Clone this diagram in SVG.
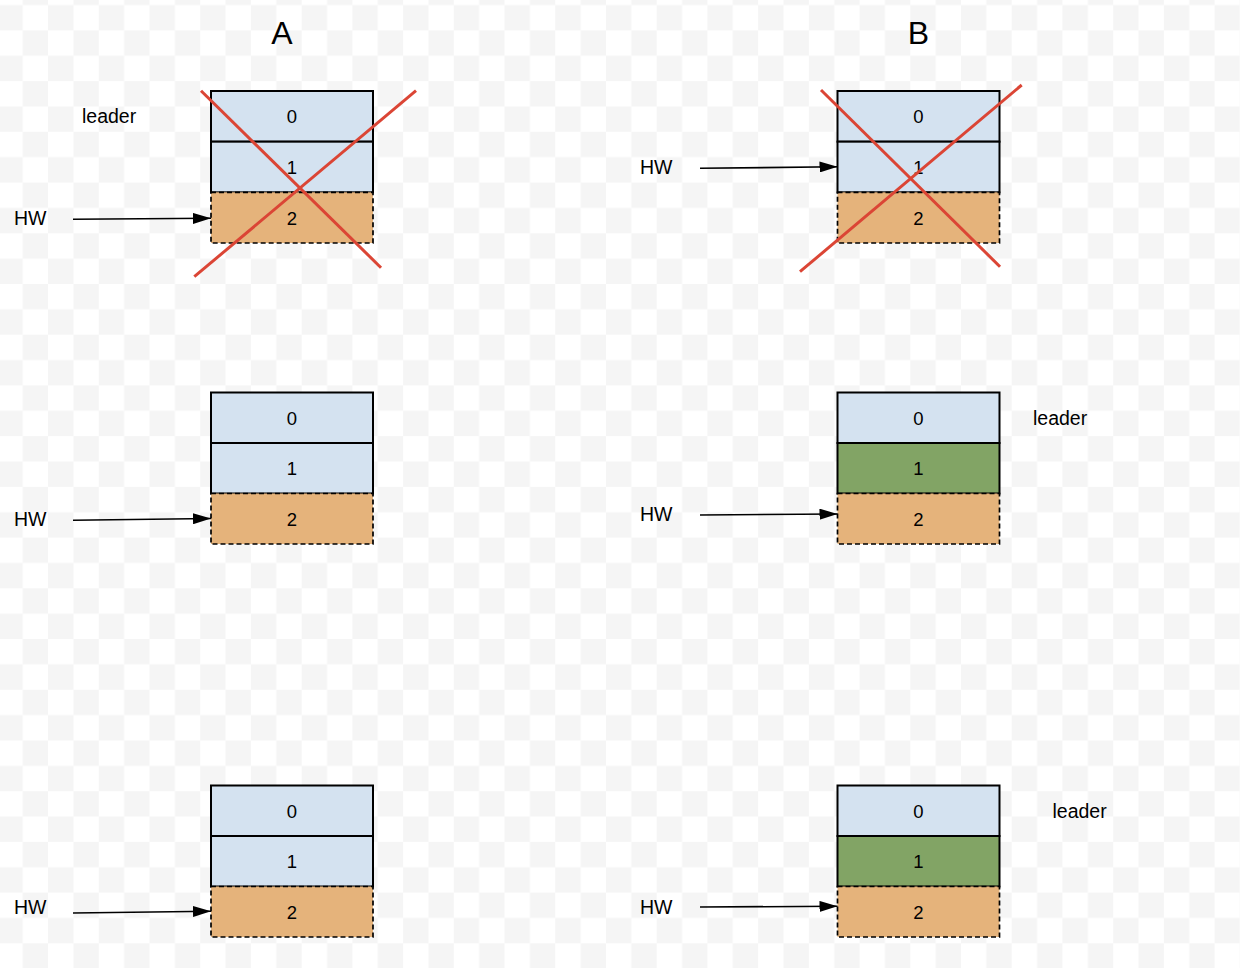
<svg xmlns="http://www.w3.org/2000/svg" width="1240" height="968" viewBox="0 0 1240 968">
  <defs>
    <!-- faint checkerboard backdrop -->
    <pattern id="checker" patternUnits="userSpaceOnUse" x="-2.67" y="-20.33" width="50.72" height="50.72">
      <rect x="0" y="0" width="50.72" height="50.72" fill="#ffffff"/>
      <rect x="25.36" y="0" width="25.36" height="25.36" fill="#f5f5f5"/>
      <rect x="0" y="25.36" width="25.36" height="25.36" fill="#f5f5f5"/>
    </pattern>
    <marker id="arrow" viewBox="0 0 18 11" refX="18" refY="5.5" markerWidth="18" markerHeight="11" markerUnits="userSpaceOnUse" orient="auto">
      <path d="M0,0 L18,5.5 L0,11 Z" fill="#000000"/>
    </marker>
  </defs>
  <style>
    text { font-family: "Liberation Sans", Arial, sans-serif; fill: #000000; }
    .num { font-size: 18.5px; text-anchor: middle; }
    .lbl { font-size: 19.5px; }
    .head { font-size: 32px; text-anchor: middle; }
    .blue { fill: #d4e2f0; stroke: #000000; stroke-width: 2; }
    .green { fill: #82a465; stroke: #000000; stroke-width: 2; }
    .orange { fill: #e5b37b; stroke: #000000; stroke-width: 1.7; stroke-dasharray: 5 3; }
    .cross { stroke: #db4535; stroke-width: 3; fill: none; }
    .conn { stroke: #000000; stroke-width: 1.6; fill: none; marker-end: url(#arrow); }
  </style>

  <rect x="0" y="0" width="1240" height="968" fill="url(#checker)"/>

  <!-- column headings -->
  <g id="heading-a"><text class="head" x="282" y="43.5">A</text></g>
  <g id="heading-b"><text class="head" x="918.5" y="43.5">B</text></g>

  <!-- column A, step 1 -->
  <g id="a1-log">
    <rect class="blue" x="211" y="91" width="162" height="50.67"/>
    <rect class="blue" x="211" y="141.67" width="162" height="50.67"/>
    <rect class="orange" x="211" y="192.33" width="162" height="50.67"/>
    <text class="num" x="292" y="123.3">0</text>
    <text class="num" x="292" y="174">1</text>
    <text class="num" x="292" y="224.6">2</text>
  </g>
  <g id="a1-cross">
    <line class="cross" x1="201" y1="90.7" x2="381" y2="267.7"/>
    <line class="cross" x1="416" y1="90.7" x2="194.3" y2="276.7"/>
  </g>
  <g id="a1-leader"><text class="lbl" x="82" y="123.3">leader</text></g>
  <g id="a1-hw"><text class="lbl" x="14" y="225.3">HW</text></g>

  <!-- column B, step 1 -->
  <g id="b1-log">
    <rect class="blue" x="837.5" y="91" width="162" height="50.67"/>
    <rect class="blue" x="837.5" y="141.67" width="162" height="50.67"/>
    <rect class="orange" x="837.5" y="192.33" width="162" height="50.67"/>
    <text class="num" x="918.5" y="123.3">0</text>
    <text class="num" x="918.5" y="174">1</text>
    <text class="num" x="918.5" y="224.6">2</text>
  </g>
  <g id="b1-cross">
    <line class="cross" x1="821" y1="90" x2="1000" y2="266.7"/>
    <line class="cross" x1="1021.7" y1="85" x2="800" y2="271.7"/>
  </g>
  <g id="b1-hw"><text class="lbl" x="640" y="174">HW</text></g>

  <!-- column A, step 2 -->
  <g id="a2-log">
    <rect class="blue" x="211" y="392.5" width="162" height="50.5"/>
    <rect class="blue" x="211" y="443" width="162" height="50.5"/>
    <rect class="orange" x="211" y="493.5" width="162" height="50.5"/>
    <text class="num" x="292" y="424.5">0</text>
    <text class="num" x="292" y="475">1</text>
    <text class="num" x="292" y="525.5">2</text>
  </g>
  <g id="a2-hw"><text class="lbl" x="14" y="525.7">HW</text></g>

  <!-- column B, step 2 -->
  <g id="b2-log">
    <rect class="blue" x="837.5" y="392.5" width="162" height="50.5"/>
    <rect class="green" x="837.5" y="443" width="162" height="50.5"/>
    <rect class="orange" x="837.5" y="493.5" width="162" height="50.5"/>
    <text class="num" x="918.5" y="424.5">0</text>
    <text class="num" x="918.5" y="475">1</text>
    <text class="num" x="918.5" y="525.5">2</text>
  </g>
  <g id="b2-leader"><text class="lbl" x="1033" y="425">leader</text></g>
  <g id="b2-hw"><text class="lbl" x="640" y="520.7">HW</text></g>

  <!-- column A, step 3 -->
  <g id="a3-log">
    <rect class="blue" x="211" y="785.5" width="162" height="50.5"/>
    <rect class="blue" x="211" y="836" width="162" height="50.5"/>
    <rect class="orange" x="211" y="886.5" width="162" height="50.5"/>
    <text class="num" x="292" y="817.5">0</text>
    <text class="num" x="292" y="868">1</text>
    <text class="num" x="292" y="918.5">2</text>
  </g>
  <g id="a3-hw"><text class="lbl" x="14" y="913.5">HW</text></g>

  <!-- column B, step 3 -->
  <g id="b3-log">
    <rect class="blue" x="837.5" y="785.5" width="162" height="50.5"/>
    <rect class="green" x="837.5" y="836" width="162" height="50.5"/>
    <rect class="orange" x="837.5" y="886.5" width="162" height="50.5"/>
    <text class="num" x="918.5" y="817.5">0</text>
    <text class="num" x="918.5" y="868">1</text>
    <text class="num" x="918.5" y="918.5">2</text>
  </g>
  <g id="b3-leader"><text class="lbl" x="1052.5" y="817.7">leader</text></g>
  <g id="b3-hw"><text class="lbl" x="640" y="914">HW</text></g>

  <!-- high-watermark pointers -->
  <g id="connectors">
    <line class="conn" x1="73" y1="219.3" x2="211" y2="218.3"/>
    <line class="conn" x1="700" y1="168.3" x2="837.5" y2="166.8"/>
    <line class="conn" x1="73" y1="520.3" x2="211" y2="518.5"/>
    <line class="conn" x1="700" y1="515" x2="837.5" y2="514"/>
    <line class="conn" x1="73" y1="913" x2="211" y2="911.3"/>
    <line class="conn" x1="700" y1="907" x2="837.5" y2="906.3"/>
  </g>
</svg>
